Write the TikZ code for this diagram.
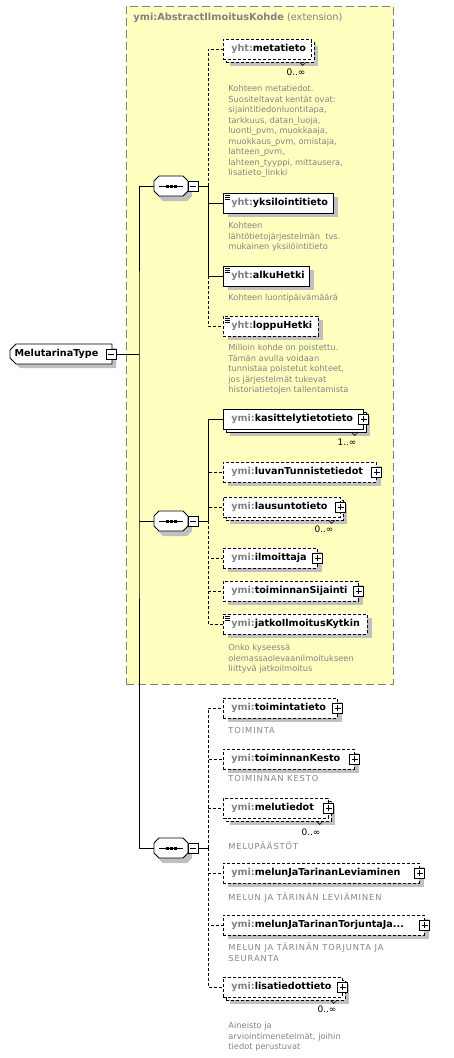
\documentclass[tikz,border=0pt]{standalone}
\usepackage{fontspec}
\setmainfont{DejaVu Sans}
\usetikzlibrary{shapes.misc,shadows}
\definecolor{pfx}{HTML}{808080}
\definecolor{dsc}{HTML}{848484}
\definecolor{extbg}{HTML}{FFFFC0}
\definecolor{shd}{HTML}{C0C0C0}
\newcommand\xn[2]{\mbox{\textcolor{pfx}{#1:}#2}}
\tikzset{
  elem/.style={draw,fill=white,anchor=west,inner xsep=8pt,inner ysep=0pt,minimum height=20pt,align=left,
    font=\fontsize{9.6}{11}\selectfont\bfseries,drop shadow={shadow xshift=5pt,shadow yshift=-4pt,fill=shd,opacity=1}},
  opt/.style={dash pattern=on 3pt off 2pt},
  many/.style={drop shadow={shadow xshift=7pt,shadow yshift=-7pt,fill=shd,opacity=1},copy shadow={shadow xshift=3pt,shadow yshift=-3pt}},
  simple/.style={path picture={\foreach \k in {2,4,6} \draw[solid,line width=0.6pt] ([xshift=2pt,yshift=-\k pt]path picture bounding box.north west) -- ++(5pt,0);}},
  pm/.style={draw,solid,fill=white,minimum size=10pt,inner sep=0pt,line width=0.7pt},
  plus/.style={pm,path picture={
    \draw ([xshift=2pt]path picture bounding box.west) -- ([xshift=-2pt]path picture bounding box.east);
    \draw ([yshift=-2pt]path picture bounding box.north) -- ([yshift=2pt]path picture bounding box.south);}},
  minus/.style={pm,path picture={\draw ([xshift=2pt]path picture bounding box.west) -- ([xshift=-2pt]path picture bounding box.east);}},
  seq/.style={minimum width=34pt,minimum height=20pt,inner sep=0pt,
    path picture={
      \draw[line width=0.8pt] ([xshift=5pt]path picture bounding box.west) -- ([xshift=-5pt]path picture bounding box.east);
      \foreach \k in {-4,0,4} \fill ([xshift=\k pt-1.5pt,yshift=-1.5pt]path picture bounding box.center) rectangle +(3pt,3pt);}},
  octa/.style={fill=white,draw,preaction={fill=shd,transform canvas={shift={(4pt,-5pt)}}}},
  root/.style={chamfered rectangle,chamfered rectangle corners={north west,south west},chamfered rectangle xsep=3pt,
    chamfered rectangle ysep=3pt,draw,fill=white,minimum width=102pt,minimum height=20pt,inner sep=0pt,
    font=\fontsize{9.6}{11}\selectfont\bfseries,drop shadow={shadow xshift=4pt,shadow yshift=-4pt,fill=shd,opacity=1}},
  desc/.style={anchor=north west,inner sep=0pt,align=left,text=dsc,font=\fontsize{8.3}{10.5}\selectfont},
  caps/.style={desc,font=\fontsize{8.3}{10.5}\selectfont\addfontfeatures{LetterSpace=11}},
  mult/.style={inner sep=0pt,font=\fontsize{9}{10}\selectfont},
  extbox/.style={anchor=north west,minimum width=267pt,minimum height=678pt,fill=extbg,draw=pfx,dash pattern=on 8pt off 4pt}
}

\begin{document}
\begin{tikzpicture}[x=1pt,y=-1pt,line width=0.8pt]
\useasboundingbox (0,0) rectangle (453,1058);
\node[extbox] (ext) at (126,6) {};
\node[anchor=west,inner sep=0pt,text=pfx,font=\fontsize{9.8}{11}\selectfont] (title) at (133,18) {\textbf{ymi:AbstractIlmoitusKohde} (extension)};

\node[root] (root) at (61,354) {MelutarinaType\hspace*{9pt}};
\node[minus] (rm) at (111,354) {};
\foreach \y in {186,521,848}
  \draw[octa] (159,\y-10) -- (183,\y-10) -- (188,\y-5) -- (188,\y+5) -- (183,\y+10) -- (159,\y+10)
    -- (154,\y+5) -- (154,\y-5) -- cycle;
\node[seq] (s1) at (171,186) {};
\node[minus] (sm1) at (193,186) {};
\node[seq] (s2) at (171,521) {};
\node[minus] (sm2) at (193,521) {};
\node[seq] (s3) at (171,848) {};
\node[minus] (sm3) at (193,848) {};

\node[elem,opt,many,text width=72pt] (e1) at (223,49) {\xn{yht}{metatieto}};
\node[elem,simple,text width=94pt] (e2) at (223,203) {\xn{yht}{yksilointitieto}};
\node[elem,simple,text width=70pt] (e3) at (223,276) {\xn{yht}{alkuHetki}};
\node[elem,opt,simple,text width=79pt] (e4) at (223,326) {\xn{yht}{loppuHetki}};
\node[elem,many,text width=124pt] (e5) at (223,419) {\xn{ymi}{kasittelytietotieto}};
\node[elem,opt,text width=137pt] (e6) at (223,472) {\xn{ymi}{luvanTunnistetiedot}};
\node[elem,opt,many,text width=101pt] (e7) at (223,507) {\xn{ymi}{lausuntotieto}};
\node[elem,opt,text width=78pt] (e8) at (223,558) {\xn{ymi}{ilmoittaja}};
\node[elem,opt,text width=119pt] (e9) at (223,591) {\xn{ymi}{toiminnanSijainti}};
\node[elem,opt,simple,text width=128pt] (e10) at (223,624) {\xn{ymi}{jatkoIlmoitusKytkin}};
\node[elem,opt,text width=98pt] (e11) at (223,708) {\xn{ymi}{toimintatieto}};
\node[elem,opt,text width=115pt] (e12) at (223,759) {\xn{ymi}{toiminnanKesto}};
\node[elem,opt,many,text width=89pt] (e13) at (223,808) {\xn{ymi}{melutiedot}};
\node[elem,opt,text width=180pt] (e14) at (223,873) {\xn{ymi}{melunJaTarinanLeviaminen}};
\node[elem,opt,text width=185pt] (e15) at (223,925) {\xn{ymi}{melunJaTarinanTorjuntaJa...}};
\node[elem,opt,many,text width=103pt] (e16) at (223,987) {\xn{ymi}{lisatiedottieto}};

\foreach \e in {e5,e6,e7,e8,e9,e11,e12,e13,e14,e15,e16}
  \node[plus] (p\e) at (\e.east) {};
\foreach \e in {e1,e5,e7,e13,e16}
  \draw[line width=0.6pt] ([xshift=-12pt,yshift=-3pt]\e.south east) -- ++(3pt,-3pt) -- ++(3pt,3pt);

\node[mult] (m1) at (296,72) {0..∞};
\node[mult] (m5) at (347,442) {1..∞};
\node[mult] (m7) at (324,529) {0..∞};
\node[mult] (m13) at (311,832) {0..∞};
\node[mult] (m16) at (327,1009) {0..∞};

\node[desc] (d1) at (228,85) {Kohteen metatiedot.\\Suositeltavat kentät ovat:\\sijaintitiedonluontitapa,\\tarkkuus, datan\_luoja,\\luonti\_pvm, muokkaaja,\\muokkaus\_pvm, omistaja,\\lahteen\_pvm,\\lahteen\_tyyppi, mittausera,\\lisatieto\_linkki};
\node[desc] (d2) at (228,222) {Kohteen\\lähtötietojärjestelmän\ \ tvs.\\mukainen yksilöintitieto};
\node[desc] (d3) at (228,294) {Kohteen luontipäivämäärä};
\node[desc] (d4) at (228,344) {Milloin kohde on poistettu.\\Tämän avulla voidaan\\tunnistaa poistetut kohteet,\\jos järjestelmät tukevat\\historiatietojen tallentamista};
\node[desc] (d10) at (228,644) {Onko kyseessä\\olemassaolevaanilmoitukseen\\liittyvä jatkoilmoitus};
\node[caps] (d11) at (228,727) {TOIMINTA};
\node[caps] (d12) at (228,775) {TOIMINNAN KESTO};
\node[caps] (d13) at (228,842) {MELUPÄÄSTÖT};
\node[caps] (d14) at (228,893) {MELUN JA TÄRINÄN LEVIÄMINEN};
\node[caps] (d15) at (228,943) {MELUN JA TÄRINÄN TORJUNTA JA\\SEURANTA};
\node[desc] (d16) at (228,1022) {Aineisto ja\\arviointimenetelmät, joihin\\tiedot perustuvat};

\coordinate (t0) at (139,354);
\draw (rm) -- (t0);
\draw (s1.west) -| (t0) |- (s3.west);
\draw (s2.west) -- (s2.west -| t0);

\coordinate (b1) at (208,186);
\draw (sm1) -- (b1);
\draw[opt] (b1) |- (e1);
\draw (b1) |- (e2);
\draw (b1) |- (e3);
\draw[opt] (e3.west -| b1) |- (e4);

\coordinate (b2) at (208,521);
\draw (sm2) -- (b2);
\draw (b2) |- (e5);
\foreach \e in {e6,e7,e8,e9,e10}
  \draw[opt] (b2) |- (\e);

\coordinate (b3) at (208,848);
\draw (sm3) -- (b3);
\foreach \e in {e11,e12,e13,e14,e15,e16}
  \draw[opt] (b3) |- (\e);
\end{tikzpicture}
\end{document}
